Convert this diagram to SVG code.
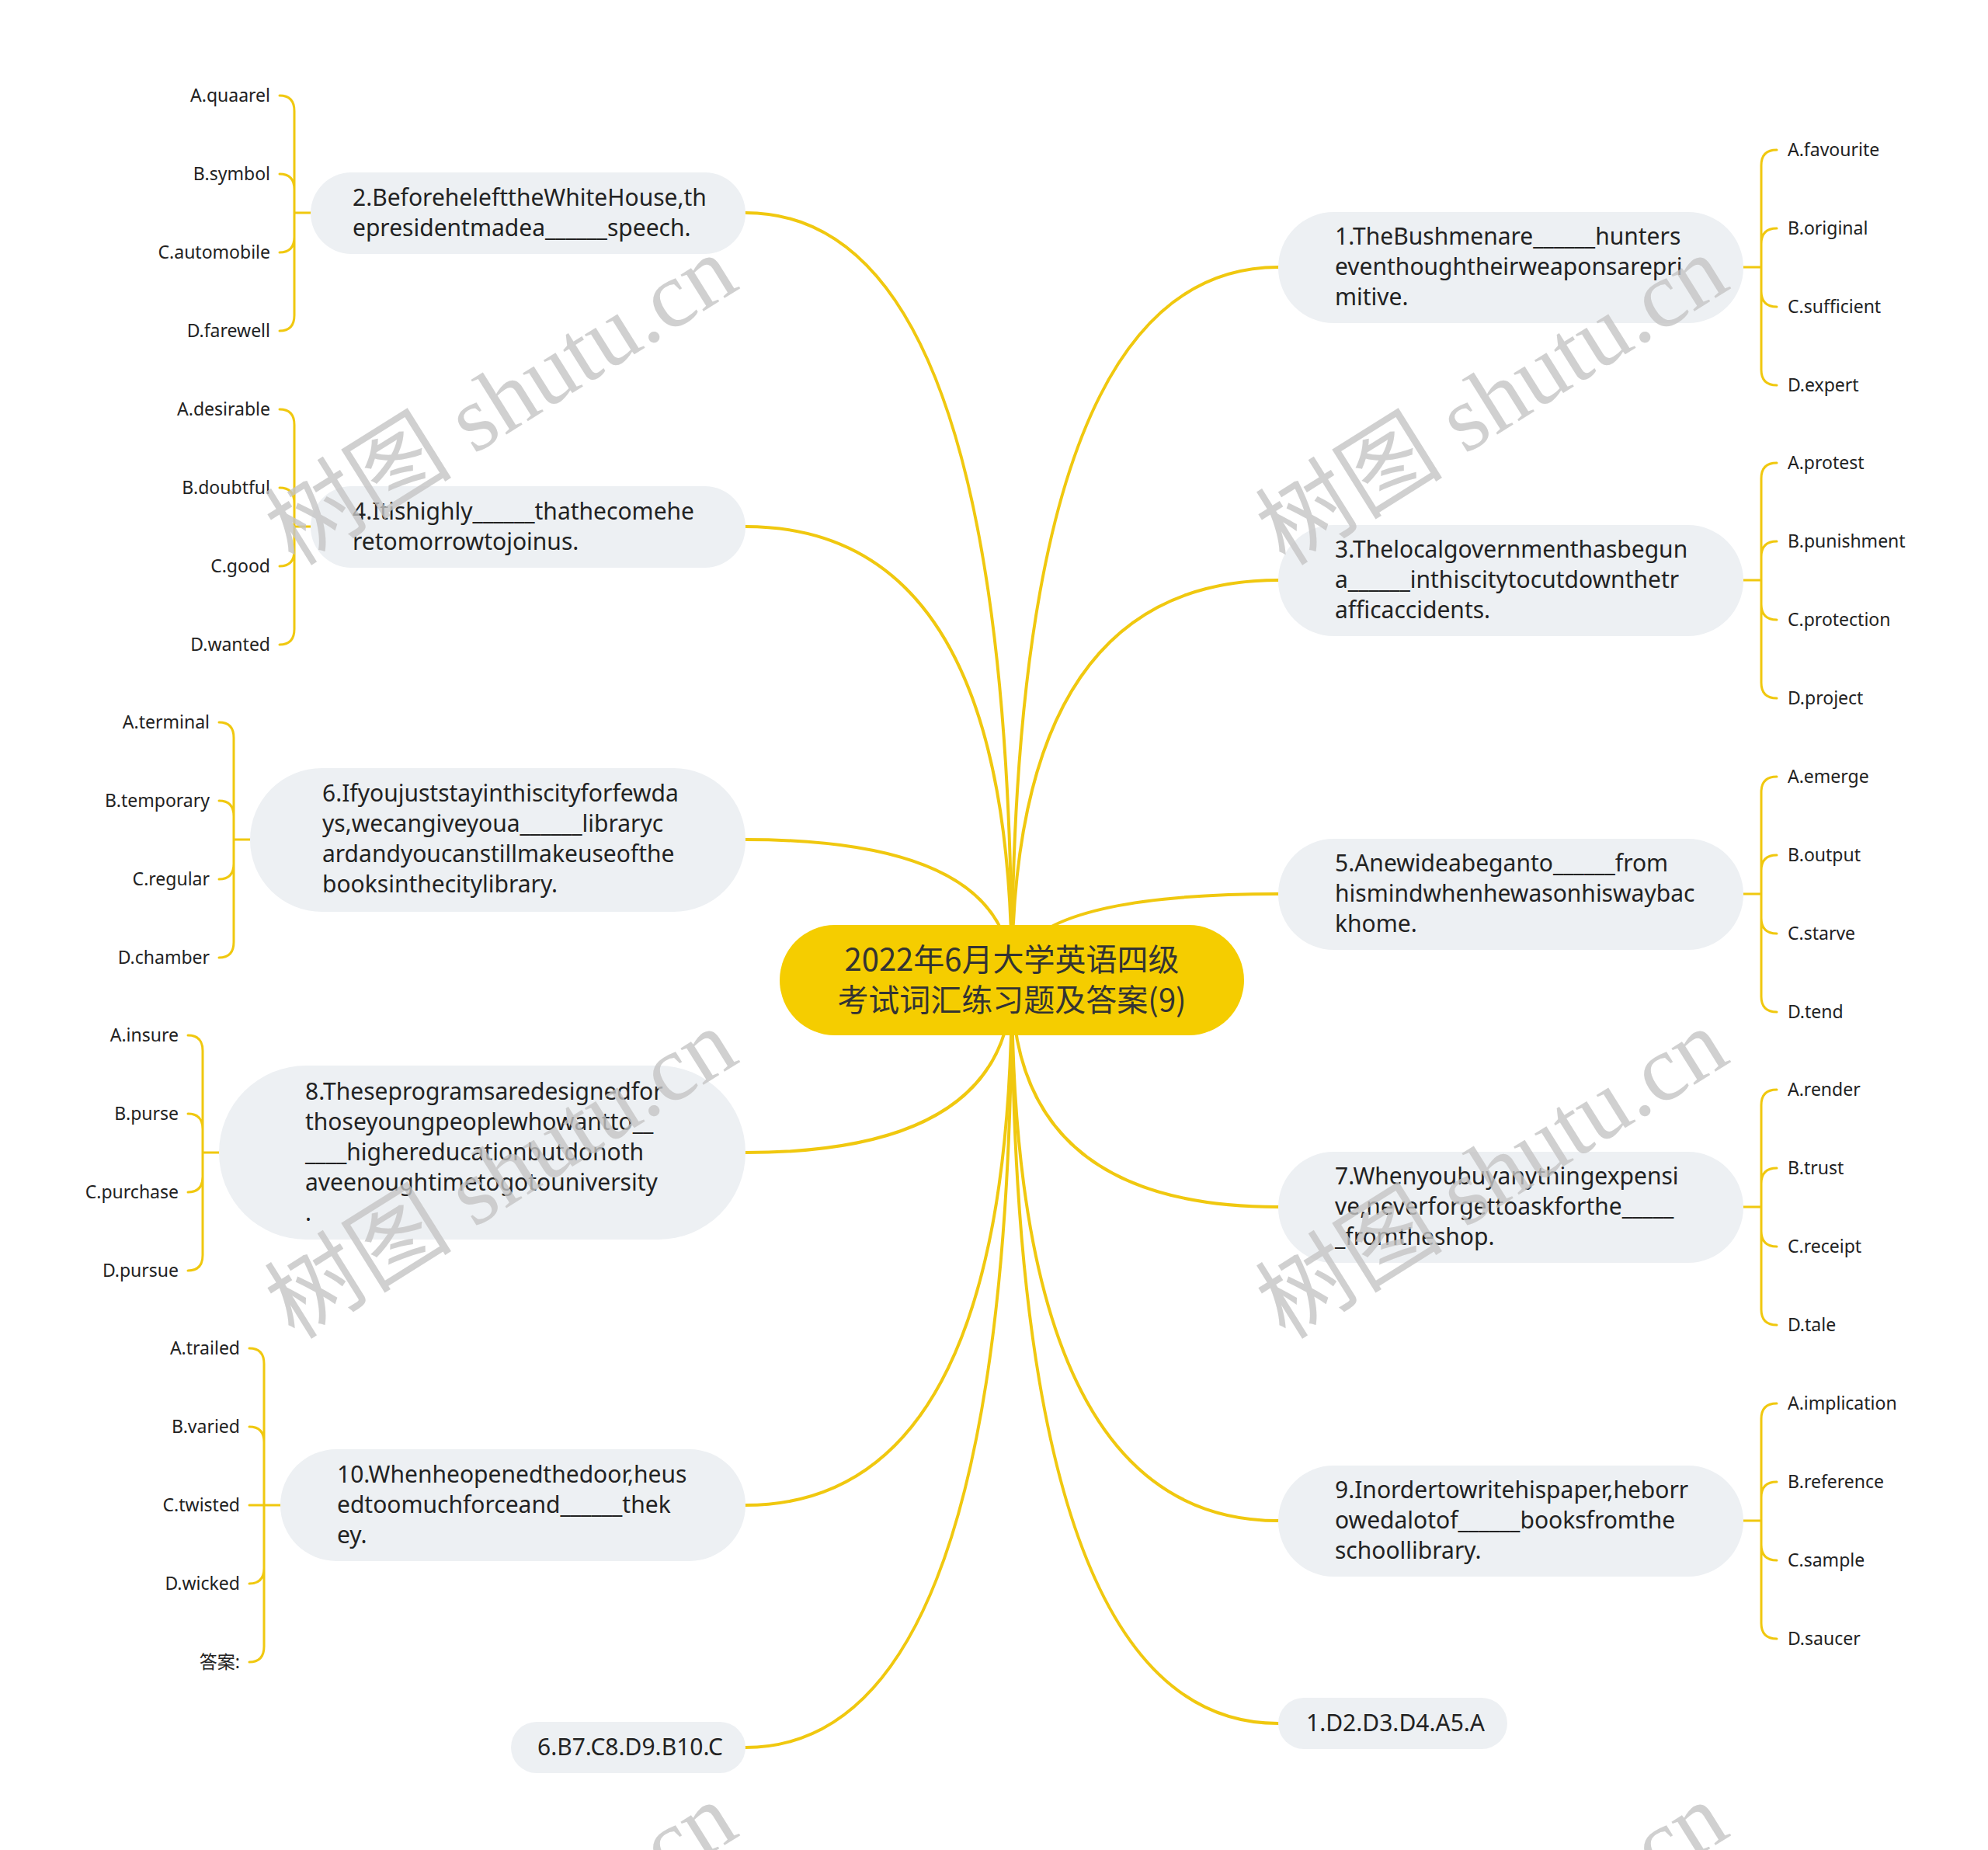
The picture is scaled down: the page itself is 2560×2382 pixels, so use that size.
<svg xmlns="http://www.w3.org/2000/svg" width="2560" height="2382" viewBox="0 0 2560 2382">
<style>
.t{font-family:"Noto Sans","Noto Sans CJK SC",sans-serif;font-size:30px;fill:#222}
.o{font-family:"Noto Sans","Noto Sans CJK SC",sans-serif;font-size:23px;fill:#222}
.l{text-anchor:end}
.c{font-family:"Noto Sans CJK SC","Noto Sans",sans-serif;font-size:40px;fill:#333;text-anchor:middle}
.n{fill:#EDF0F3}
.lk{fill:none;stroke:#F0C80F;stroke-width:4;stroke-linecap:round}
.br{fill:none;stroke:#F0C80F;stroke-width:3;stroke-linecap:round}
.wm{font-family:"Liberation Serif","Noto Sans CJK SC",serif;font-size:121px;fill:#c4c4c4;fill-opacity:0.8;text-anchor:middle}
</style>
<rect width="2560" height="2382" fill="#ffffff"/>
<g id="connectors">
<path class="lk" d="M1303 1262 Q1303 274 960 274"/>
<path class="lk" d="M1303 1262 Q1303 678 960 678"/>
<path class="lk" d="M1303 1262 Q1303 1081 960 1081"/>
<path class="lk" d="M1303 1262 Q1303 1484 960 1484"/>
<path class="lk" d="M1303 1262 Q1303 1938 960 1938"/>
<path class="lk" d="M1303 1262 Q1303 2250 960 2250"/>
<path class="lk" d="M1303 1262 Q1303 344 1646 344"/>
<path class="lk" d="M1303 1262 Q1303 747 1646 747"/>
<path class="lk" d="M1303 1262 Q1303 1151 1646 1151"/>
<path class="lk" d="M1303 1262 Q1303 1554 1646 1554"/>
<path class="lk" d="M1303 1262 Q1303 1958 1646 1958"/>
<path class="lk" d="M1303 1262 Q1303 2219 1646 2219"/>
<path class="br" d="M2245 344 H2268 M2268 344 V213 Q2268 193 2288 193 M2268 344 V314 Q2268 294 2288 294 M2268 344 V375 Q2268 395 2288 395 M2268 344 V476 Q2268 496 2288 496"/>
<path class="br" d="M2245 747 H2268 M2268 747 V616 Q2268 596 2288 596 M2268 747 V717 Q2268 697 2288 697 M2268 747 V778 Q2268 798 2288 798 M2268 747 V879 Q2268 899 2288 899"/>
<path class="br" d="M2245 1151 H2268 M2268 1151 V1020 Q2268 1000 2288 1000 M2268 1151 V1121 Q2268 1101 2288 1101 M2268 1151 V1182 Q2268 1202 2288 1202 M2268 1151 V1283 Q2268 1303 2288 1303"/>
<path class="br" d="M2245 1554 H2268 M2268 1554 V1423 Q2268 1403 2288 1403 M2268 1554 V1524 Q2268 1504 2288 1504 M2268 1554 V1585 Q2268 1605 2288 1605 M2268 1554 V1686 Q2268 1706 2288 1706"/>
<path class="br" d="M2245 1958 H2268 M2268 1958 V1827 Q2268 1807 2288 1807 M2268 1958 V1928 Q2268 1908 2288 1908 M2268 1958 V1989 Q2268 2009 2288 2009 M2268 1958 V2090 Q2268 2110 2288 2110"/>
<path class="br" d="M400 274 H379 M379 274 V143 Q379 123 360 123 M379 274 V244 Q379 224 360 224 M379 274 V305 Q379 325 360 325 M379 274 V406 Q379 426 360 426"/>
<path class="br" d="M400 678 H379 M379 678 V547 Q379 527 360 527 M379 678 V648 Q379 628 360 628 M379 678 V709 Q379 729 360 729 M379 678 V810 Q379 830 360 830"/>
<path class="br" d="M322 1081 H301 M301 1081 V950 Q301 930 282 930 M301 1081 V1051 Q301 1031 282 1031 M301 1081 V1112 Q301 1132 282 1132 M301 1081 V1213 Q301 1233 282 1233"/>
<path class="br" d="M282 1484 H261 M261 1484 V1353 Q261 1333 242 1333 M261 1484 V1454 Q261 1434 242 1434 M261 1484 V1515 Q261 1535 242 1535 M261 1484 V1616 Q261 1636 242 1636"/>
<path class="br" d="M361 1938 H321 M340 1938 V1756 Q340 1736 321 1736 M340 1938 V1857 Q340 1837 321 1837 M340 1938 V2019 Q340 2039 321 2039 M340 1938 V2120 Q340 2140 321 2140"/>
</g>
<g id="center">
<rect x="1004" y="1191" width="598" height="142" rx="71" fill="#F5CD00"/>
<text class="c" x="1303" y="1250">2022年6月大学英语四级</text>
<text class="c" x="1303" y="1302">考试词汇练习题及答案(9)</text>
</g>
<g id="n1">
<rect class="n" x="1646" y="273" width="599" height="143" rx="71.5"/>
<text class="t"><tspan x="1719" y="315">1.TheBushmenare______hunters</tspan><tspan x="1719" y="354">eventhoughtheirweaponsarepri</tspan><tspan x="1719" y="393">mitive.</tspan></text>
<text class="o"><tspan x="2302" y="201">A.favourite</tspan><tspan x="2302" y="302">B.original</tspan><tspan x="2302" y="403">C.sufficient</tspan><tspan x="2302" y="504">D.expert</tspan></text>
</g>
<g id="n3">
<rect class="n" x="1646" y="676" width="599" height="143" rx="71.5"/>
<text class="t"><tspan x="1719" y="718">3.Thelocalgovernmenthasbegun</tspan><tspan x="1719" y="757">a______inthiscitytocutdownthetr</tspan><tspan x="1719" y="796">afficaccidents.</tspan></text>
<text class="o"><tspan x="2302" y="604">A.protest</tspan><tspan x="2302" y="705">B.punishment</tspan><tspan x="2302" y="806">C.protection</tspan><tspan x="2302" y="907">D.project</tspan></text>
</g>
<g id="n5">
<rect class="n" x="1646" y="1080" width="599" height="143" rx="71.5"/>
<text class="t"><tspan x="1719" y="1122">5.Anewideabeganto______from</tspan><tspan x="1719" y="1161">hismindwhenhewasonhiswaybac</tspan><tspan x="1719" y="1200">khome.</tspan></text>
<text class="o"><tspan x="2302" y="1008">A.emerge</tspan><tspan x="2302" y="1109">B.output</tspan><tspan x="2302" y="1210">C.starve</tspan><tspan x="2302" y="1311">D.tend</tspan></text>
</g>
<g id="n7">
<rect class="n" x="1646" y="1483" width="599" height="143" rx="71.5"/>
<text class="t"><tspan x="1719" y="1525">7.Whenyoubuyanythingexpensi</tspan><tspan x="1719" y="1564">ve,neverforgettoaskforthe_____</tspan><tspan x="1719" y="1603">_fromtheshop.</tspan></text>
<text class="o"><tspan x="2302" y="1411">A.render</tspan><tspan x="2302" y="1512">B.trust</tspan><tspan x="2302" y="1613">C.receipt</tspan><tspan x="2302" y="1714">D.tale</tspan></text>
</g>
<g id="n9">
<rect class="n" x="1646" y="1887" width="599" height="143" rx="71.5"/>
<text class="t"><tspan x="1719" y="1929">9.Inordertowritehispaper,heborr</tspan><tspan x="1719" y="1968">owedalotof______booksfromthe</tspan><tspan x="1719" y="2007">schoollibrary.</tspan></text>
<text class="o"><tspan x="2302" y="1815">A.implication</tspan><tspan x="2302" y="1916">B.reference</tspan><tspan x="2302" y="2017">C.sample</tspan><tspan x="2302" y="2118">D.saucer</tspan></text>
</g>
<g id="ans1">
<rect class="n" x="1646" y="2186" width="295" height="66" rx="33"/>
<text class="t" x="1682" y="2229">1.D2.D3.D4.A5.A</text>
</g>
<g id="n2">
<rect class="n" x="400" y="222" width="560" height="105" rx="52.5"/>
<text class="t"><tspan x="454" y="265">2.BeforehelefttheWhiteHouse,th</tspan><tspan x="454" y="304">epresidentmadea______speech.</tspan></text>
<text class="o l"><tspan x="348" y="131">A.quaarel</tspan><tspan x="348" y="232">B.symbol</tspan><tspan x="348" y="333">C.automobile</tspan><tspan x="348" y="434">D.farewell</tspan></text>
</g>
<g id="n4">
<rect class="n" x="400" y="626" width="560" height="105" rx="52.5"/>
<text class="t"><tspan x="454" y="669">4.Itishighly______thathecomehe</tspan><tspan x="454" y="708">retomorrowtojoinus.</tspan></text>
<text class="o l"><tspan x="348" y="535">A.desirable</tspan><tspan x="348" y="636">B.doubtful</tspan><tspan x="348" y="737">C.good</tspan><tspan x="348" y="838">D.wanted</tspan></text>
</g>
<g id="n6">
<rect class="n" x="322" y="989" width="638" height="185" rx="92.5"/>
<text class="t"><tspan x="415" y="1032">6.Ifyoujuststayinthiscityforfewda</tspan><tspan x="415" y="1071">ys,wecangiveyoua______libraryc</tspan><tspan x="415" y="1110">ardandyoucanstillmakeuseofthe</tspan><tspan x="415" y="1149">booksinthecitylibrary.</tspan></text>
<text class="o l"><tspan x="270" y="938">A.terminal</tspan><tspan x="270" y="1039">B.temporary</tspan><tspan x="270" y="1140">C.regular</tspan><tspan x="270" y="1241">D.chamber</tspan></text>
</g>
<g id="n8">
<rect class="n" x="282" y="1372" width="678" height="224" rx="112"/>
<text class="t"><tspan x="393" y="1416">8.Theseprogramsaredesignedfor</tspan><tspan x="393" y="1455">thoseyoungpeoplewhowantto__</tspan><tspan x="393" y="1494">____highereducationbutdonoth</tspan><tspan x="393" y="1533">aveenoughtimetogotouniversity</tspan><tspan x="393" y="1572">.</tspan></text>
<text class="o l"><tspan x="230" y="1341">A.insure</tspan><tspan x="230" y="1442">B.purse</tspan><tspan x="230" y="1543">C.purchase</tspan><tspan x="230" y="1644">D.pursue</tspan></text>
</g>
<g id="n10">
<rect class="n" x="361" y="1866" width="599" height="144" rx="72"/>
<text class="t"><tspan x="434" y="1909">10.Whenheopenedthedoor,heus</tspan><tspan x="434" y="1948">edtoomuchforceand______thek</tspan><tspan x="434" y="1987">ey.</tspan></text>
<text class="o l"><tspan x="309" y="1744">A.trailed</tspan><tspan x="309" y="1845">B.varied</tspan><tspan x="309" y="1946">C.twisted</tspan><tspan x="309" y="2047">D.wicked</tspan><tspan x="309" y="2148">答案:</tspan></text>
</g>
<g id="ans2">
<rect class="n" x="658" y="2217" width="302" height="66" rx="33"/>
<text class="t" x="692" y="2260">6.B7.C8.D9.B10.C</text>
</g>
<g id="watermarks">
<text class="wm" transform="translate(667 550) rotate(-32)">树图 shutu.cn</text>
<text class="wm" transform="translate(1943 550) rotate(-32)">树图 shutu.cn</text>
<text class="wm" transform="translate(667 1546) rotate(-32)">树图 shutu.cn</text>
<text class="wm" transform="translate(1943 1546) rotate(-32)">树图 shutu.cn</text>
<text class="wm" transform="translate(667 2542) rotate(-32)">树图 shutu.cn</text>
<text class="wm" transform="translate(1943 2542) rotate(-32)">树图 shutu.cn</text>
</g>
</svg>
